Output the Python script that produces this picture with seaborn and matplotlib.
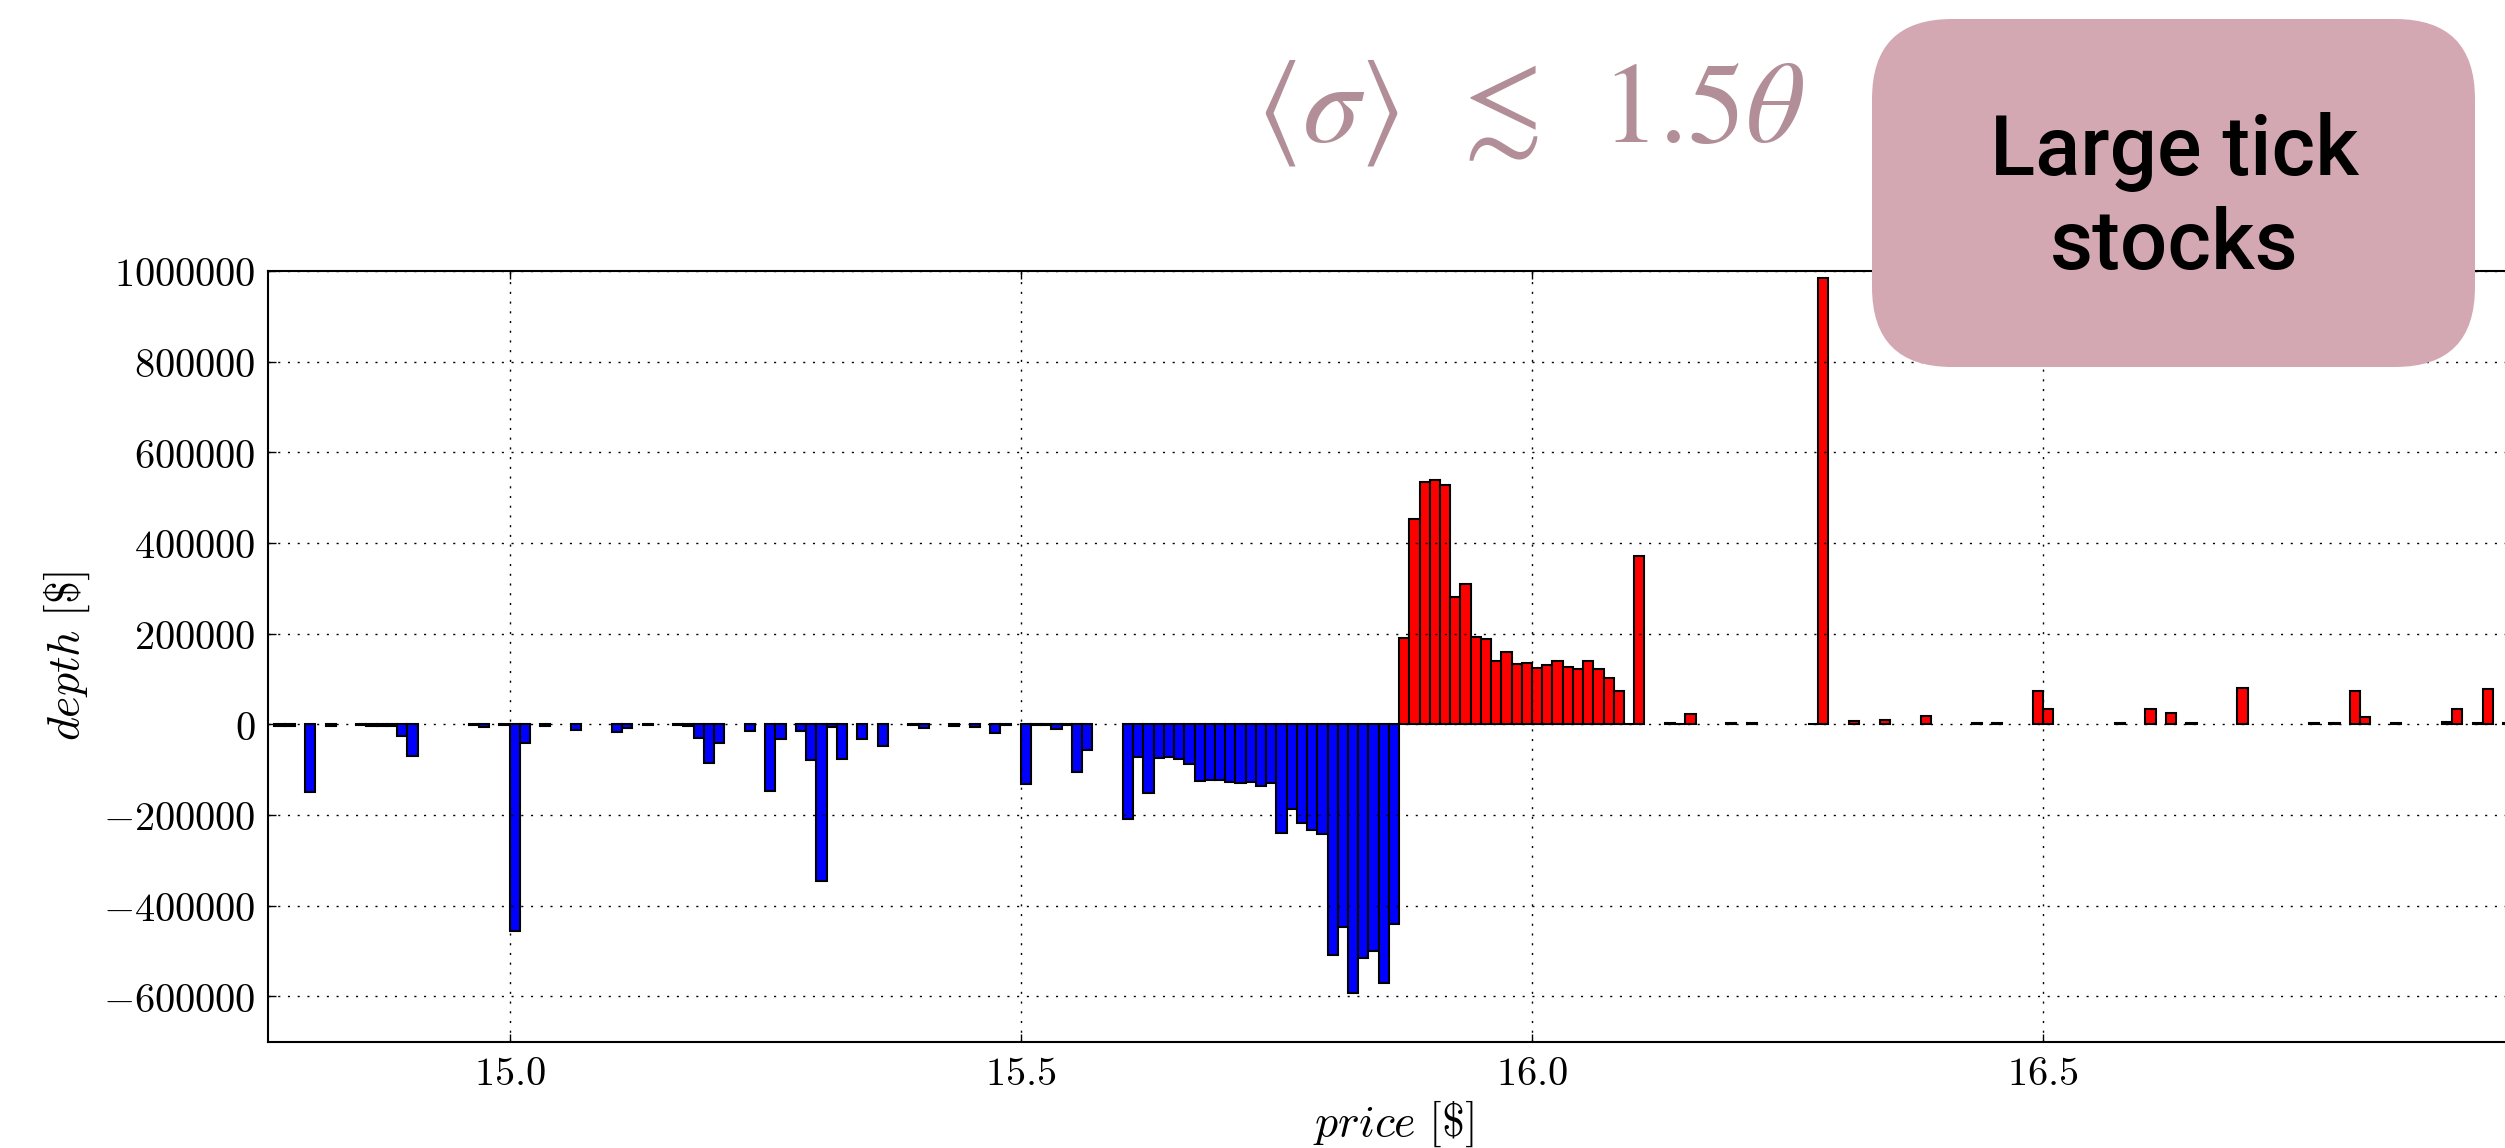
import matplotlib
matplotlib.use("Agg")
import matplotlib.pyplot as plt
import pandas as pd
import seaborn as sns
from matplotlib.patches import FancyBboxPatch
from matplotlib.ticker import FixedLocator, FuncFormatter

# Order book snapshot, one bar per price level (tick = 0.01 $)
TICK = 0.01

bid_prices = [14.77, 14.78, 14.80, 14.82, 14.85, 14.86, 14.87, 14.88, 14.89, 14.90,
              14.96, 14.97, 14.99, 15.00, 15.01, 15.03, 15.06, 15.10, 15.11, 15.13,
              15.16, 15.17, 15.18, 15.19, 15.20, 15.23, 15.25, 15.26, 15.28, 15.29,
              15.30, 15.31, 15.32, 15.34, 15.36, 15.39, 15.40, 15.43, 15.45, 15.47,
              15.48, 15.50, 15.51, 15.52, 15.53, 15.54, 15.55, 15.56, 15.60, 15.61,
              15.62, 15.63, 15.64, 15.65, 15.66, 15.67, 15.68, 15.69, 15.70, 15.71,
              15.72, 15.73, 15.74, 15.75, 15.76, 15.77, 15.78, 15.79, 15.80, 15.81,
              15.82, 15.83, 15.84, 15.85, 15.86]
bid_depth = [-4000, -4000, -150000, -3000, -2000, -3500, -3500, -3500, -26500, -71000,
             -2000, -5000, -2000, -455000, -42000, -3000, -12000, -16000, -9000, -2500,
             -2000, -4000, -31000, -85000, -41000, -14000, -147000, -33000, -14000, -78000,
             -346000, -6500, -76000, -31500, -48000, -2000, -8000, -4000, -5000, -19000,
             -2000, -131000, -2000, -2000, -10000, -2000, -105000, -57000, -210000, -72000,
             -152000, -74500, -72500, -75500, -88500, -126000, -122000, -123000, -128000, -130500,
             -128000, -137000, -130500, -240000, -186000, -217500, -233000, -241000, -510000, -448000,
             -592000, -516500, -501000, -571000, -440000]

ask_prices = [15.87, 15.88, 15.89, 15.90, 15.91, 15.92, 15.93, 15.94, 15.95, 15.96,
              15.97, 15.98, 15.99, 16.00, 16.01, 16.02, 16.03, 16.04, 16.05, 16.06,
              16.07, 16.08, 16.09, 16.10, 16.13, 16.14, 16.15, 16.19, 16.21, 16.27,
              16.28, 16.31, 16.34, 16.38, 16.43, 16.45, 16.49, 16.50, 16.57, 16.60,
              16.62, 16.64, 16.69, 16.76, 16.78, 16.80, 16.81, 16.84, 16.89, 16.90,
              16.92, 16.93, 16.95]
ask_depth = [190600, 452600, 533600, 538800, 528400, 280400, 309900, 193600, 187700, 140600,
             159000, 133200, 136200, 125100, 130300, 140600, 125900, 122900, 140600, 122900,
             102300, 72900, 1500, 370200, 3500, 1500, 23500, 2000, 3000, 1500,
             985000, 7400, 8800, 17700, 2500, 3500, 73600, 33100, 2500, 34600,
             24300, 3500, 80200, 2000, 2500, 72900, 15500, 2000, 5900, 33100,
             2000, 78800, 2000]

x_ticks = [15.0, 15.5, 16.0, 16.5]
y_ticks = [-600000, -400000, -200000, 0, 200000, 400000, 600000, 800000, 1000000]

df = pd.concat([
    pd.DataFrame({"price": bid_prices, "depth": bid_depth, "side": "bid"}),
    pd.DataFrame({"price": ask_prices, "depth": ask_depth, "side": "ask"}),
], ignore_index=True)
# bars start at the price level (edge aligned), seaborn centres them
df["mid"] = df["price"] + TICK / 2

plt.rcParams["mathtext.fontset"] = "cm"
plt.rcParams["xtick.direction"] = "in"
plt.rcParams["ytick.direction"] = "in"

fig = plt.figure(figsize=(25.05, 11.48), dpi=100)
ax = fig.add_axes([268 / 2505, 106.4 / 1148, 2250 / 2505, 770.6 / 1148])

sns.barplot(data=df, x="mid", y="depth", hue="side",
            palette={"bid": "#0000ff", "ask": "#ff0000"},
            native_scale=True, width=1.0, dodge=False, saturation=1,
            errorbar=None, edgecolor="black", linewidth=1.5,
            legend=False, ax=ax)

ax.set_xlim(14.7637, 14.7637 + 2250 / 1022.4)
ax.set_ylim(-700000, 1000000)
ax.xaxis.set_major_locator(FixedLocator(x_ticks))
ax.yaxis.set_major_locator(FixedLocator(y_ticks))
ax.xaxis.set_major_formatter(FuncFormatter(lambda v, _: f"${v:.1f}$"))
ax.yaxis.set_major_formatter(FuncFormatter(lambda v, _: f"${v:.0f}$"))
ax.tick_params(axis="both", which="major", labelsize=29, length=6, width=1,
               pad=9, top=True, right=True)
ax.set_axisbelow(False)
ax.grid(True, color="black", linestyle=(0, (1.5, 5.5)), linewidth=1)
for s in ax.spines.values():
    s.set_linewidth(1.5)
    s.set_color("black")

ax.set_xlabel(r"$price\ [\$]$", fontsize=33, labelpad=3)
ax.set_ylabel(r"$depth\ [\$]$", fontsize=33, labelpad=8)

# title-like annotation above the axes
fig.text(1530 / 2505, 1 - 112 / 1148, r"$\langle\sigma\rangle\ \,\lesssim\ \,1.5\theta$",
         fontsize=83, color="#b28f98", math_fontfamily="stix",
         ha="center", va="center")

# rounded label box, drawn on top of the axes
box = FancyBboxPatch((18.72, (1148 - 367) / 100), 6.03, 3.48,
                     boxstyle="round,pad=0,rounding_size=0.8",
                     transform=fig.dpi_scale_trans, facecolor="#d4a8b2",
                     edgecolor="none", zorder=5)
fig.add_artist(box)
fig.text(2174 / 2505, 1 - 199 / 1148, "Large tick\nstocks", ha="center", va="center",
         fontsize=60, family="Roboto", fontweight="medium", linespacing=1.22, zorder=6)

fig.savefig("out.png", dpi=100)
